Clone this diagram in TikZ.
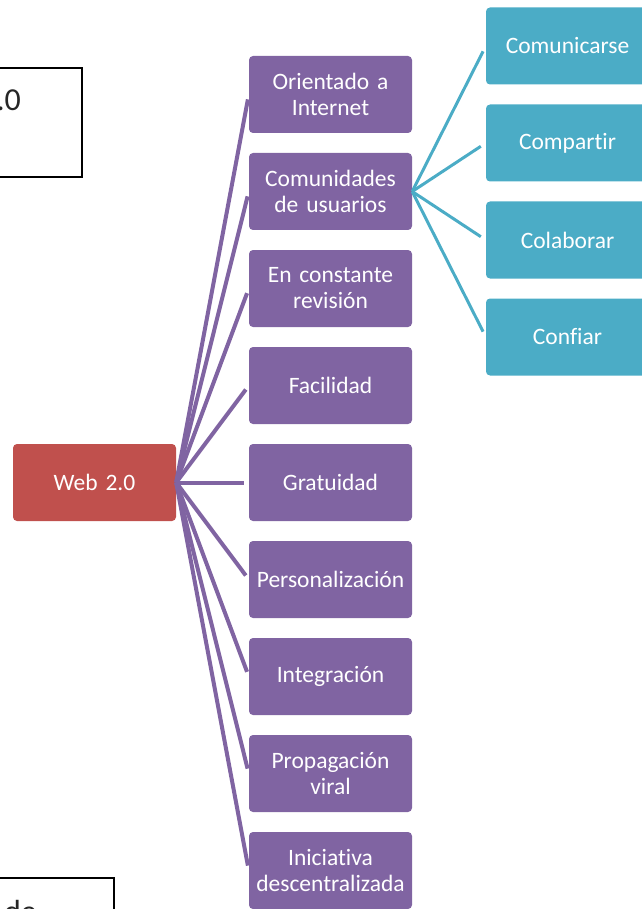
\documentclass[tikz,border=0pt]{standalone}
\usepackage{fontspec}
\setmainfont{Carlito}[Ligatures={NoCommon,NoRare,NoDiscretionary}]
\usetikzlibrary{calc}
\definecolor{rootred}{HTML}{C0504D}
\definecolor{featpurple}{HTML}{8064A2}
\definecolor{subteal}{HTML}{4BACC6}
\definecolor{notegray}{HTML}{262626}
\tikzset{
  box/.style={rounded corners=4pt, minimum width=163pt, minimum height=77pt,
    inner sep=0pt, text width=160pt, align=center, text=white,
    font=\fontsize{23.5}{26}\selectfont},
  rootbox/.style={box, fill=rootred},
  featbox/.style={box, fill=featpurple},
  subbox/.style={box, fill=subteal},
  featlink/.style={draw=featpurple, line width=4pt, shorten >=5pt},
  sublink/.style={draw=subteal, line width=3pt, shorten >=6pt},
  framebox/.style={draw=black, line width=2pt},
}
\begin{document}
\begin{tikzpicture}[x=1pt,y=-1pt]
\useasboundingbox (0,0) rectangle (641,909);

% partially visible text frames at the left margin
\draw[framebox] (-60,68) rectangle (82,177);
\node[anchor=base east, inner sep=0pt, text=notegray,
      font=\fontsize{32}{38}\selectfont] (toplabel) at (21,111) {2.0};
\draw[framebox] (-60,878) rectangle (114,960);
\node[anchor=base west, inner sep=0pt, text=notegray,
      font=\fontsize{32}{38}\selectfont] (bottomlabel) at (4,922) {de};

% root
\node[rootbox] (web) at (94.5,482.5) {Web 2.0};

% features
\node[featbox] (f1) at (330.5,94.5) {Orientado a\\Internet};
\node[featbox] (f2) at (330.5,191.5) {Comunidades\\de usuarios};
\node[featbox] (f3) at (330.5,288.5) {En constante\\revisión};
\node[featbox] (f4) at (330.5,385.5) {Facilidad};
\node[featbox] (f5) at (330.5,482.5) {Gratuidad};
\node[featbox] (f6) at (330.5,579.5) {Personalización};
\node[featbox] (f7) at (330.5,676.5) {Integración};
\node[featbox] (f8) at (330.5,773.5) {Propagación\\viral};
\node[featbox] (f9) at (330.5,870.5) {Iniciativa\\descentralizada};

% sub-features of the user communities
\node[subbox] (s1) at (567.5,46) {Comunicarse};
\node[subbox] (s2) at (567.5,143) {Compartir};
\node[subbox] (s3) at (567.5,240) {Colaborar};
\node[subbox] (s4) at (567.5,337) {Confiar};

% connectors
\foreach \f in {f1,f2,f3,f4,f5,f6,f7,f8,f9}
  \draw[featlink] (web.east) -- (\f.west);
\foreach \s in {s1,s2,s3,s4}
  \draw[sublink] (f2.east) -- (\s.west);
\end{tikzpicture}
\end{document}
